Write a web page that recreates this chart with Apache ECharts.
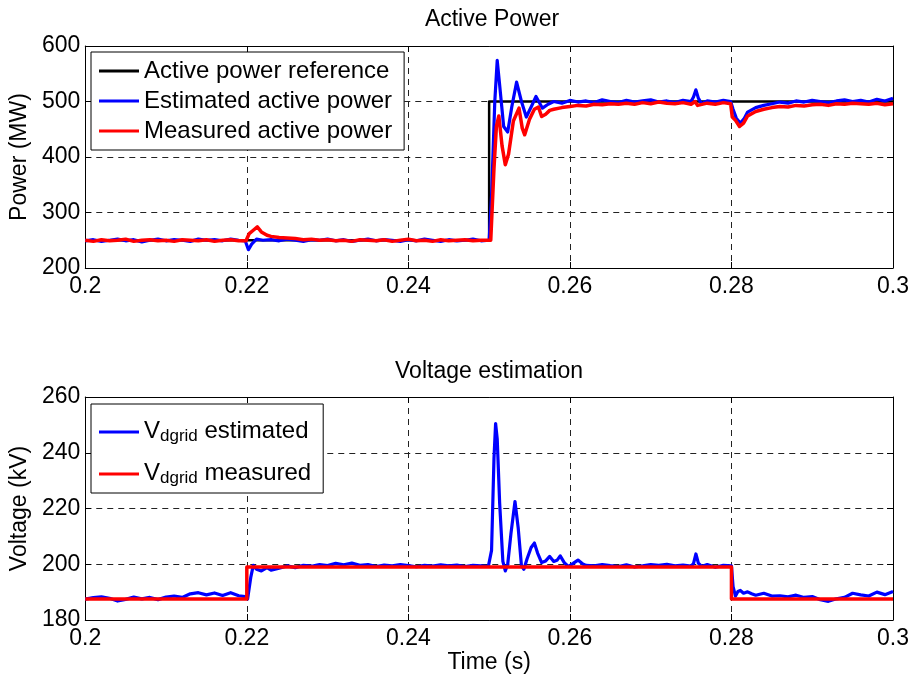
<!DOCTYPE html>
<html>
<head>
<meta charset="utf-8">
<script src="https://cdn.jsdelivr.net/npm/echarts@6/dist/echarts.min.js"></script>
<style>
html, body { margin: 0; padding: 0; background: #fff; }
#chart { width: 917px; height: 680px; }
</style>
</head>
<body>
<div id="chart"></div>
<script>
// ---- Active power (MW) vs time (s) ----
const powerRef = [[0.2, 250], [0.25, 250], [0.25, 500], [0.3, 500]];

const powerEst = [
  [0.200,249],[0.201,251],[0.202,248],[0.203,250],[0.204,252],[0.205,249],[0.206,251],[0.207,247],
  [0.208,250],[0.209,252],[0.210,249],[0.211,251],[0.212,250],[0.213,248],[0.214,252],[0.215,250],
  [0.216,251],[0.217,249],[0.218,252],[0.219,250],[0.2198,249],[0.2202,233],[0.2206,243],[0.2212,252],
  [0.222,250],[0.223,251],[0.224,249],[0.225,252],[0.226,250],[0.227,248],[0.228,251],[0.229,250],
  [0.230,252],[0.231,249],[0.232,251],[0.233,248],[0.234,250],[0.235,252],[0.236,249],[0.237,251],
  [0.238,250],[0.239,248],[0.240,251],[0.241,249],[0.242,252],[0.243,250],[0.244,248],[0.245,251],
  [0.246,249],[0.247,250],[0.248,252],[0.249,249],[0.2500,250],[0.2503,330],[0.2507,500],[0.2510,574],
  [0.2513,530],[0.2518,455],[0.2523,445],[0.2528,490],[0.2534,535],[0.2540,500],[0.2546,472],[0.2552,490],
  [0.2558,509],[0.2566,488],[0.2573,495],[0.258,500],[0.259,497],[0.260,502],[0.261,499],[0.262,501],
  [0.263,498],[0.264,503],[0.265,500],[0.266,498],[0.267,502],[0.268,499],[0.269,501],[0.270,503],
  [0.271,499],[0.272,501],[0.273,498],[0.274,502],[0.275,500],[0.2753,508],[0.2756,521],[0.2759,506],
  [0.2763,496],[0.277,501],[0.278,499],[0.279,502],[0.2799,500],[0.2802,486],[0.2806,470],[0.2811,461],
  [0.2816,470],[0.282,481],[0.283,489],[0.284,493],[0.285,496],[0.286,499],[0.287,497],[0.288,501],
  [0.289,499],[0.290,502],[0.291,500],[0.292,498],[0.293,501],[0.294,503],[0.295,500],[0.296,502],
  [0.297,499],[0.298,504],[0.299,501],[0.300,506]
];

const powerMeas = [
  [0.200,250],[0.201,248],[0.202,251],[0.203,249],[0.204,250],[0.205,252],[0.206,248],[0.207,250],
  [0.208,251],[0.209,249],[0.210,250],[0.211,248],[0.212,251],[0.213,250],[0.214,249],[0.215,251],
  [0.216,248],[0.217,250],[0.218,251],[0.219,249],[0.2199,249],[0.2203,262],[0.2208,268],[0.2213,274],
  [0.2218,265],[0.2225,259],[0.223,257],[0.224,255],[0.225,254],[0.226,253],[0.227,251],[0.228,252],
  [0.229,250],[0.230,251],[0.231,249],[0.232,250],[0.233,248],[0.234,251],[0.235,250],[0.236,249],
  [0.237,251],[0.238,248],[0.239,250],[0.240,252],[0.241,249],[0.242,250],[0.243,248],[0.244,251],
  [0.245,249],[0.246,250],[0.247,251],[0.248,249],[0.249,250],[0.2502,250],[0.2506,380],[0.2509,455],
  [0.2512,474],[0.2516,420],[0.2520,386],[0.2524,405],[0.2530,465],[0.2537,488],[0.2541,452],[0.2544,440],
  [0.2550,468],[0.2556,486],[0.2561,490],[0.2565,473],[0.2570,477],[0.2575,484],[0.258,486],[0.259,489],
  [0.260,491],[0.261,493],[0.262,492],[0.263,495],[0.264,494],[0.265,496],[0.266,495],[0.267,497],
  [0.268,495],[0.269,498],[0.270,496],[0.271,499],[0.272,497],[0.273,496],[0.274,498],[0.275,495],
  [0.2755,500],[0.2758,493],[0.276,492],[0.277,497],[0.278,495],[0.279,498],[0.2799,496],[0.2801,472],
  [0.2805,466],[0.2810,455],[0.2815,461],[0.282,474],[0.283,482],[0.284,486],[0.285,489],[0.286,491],
  [0.287,490],[0.288,493],[0.289,492],[0.290,494],[0.291,495],[0.292,493],[0.293,496],[0.294,495],
  [0.295,497],[0.296,496],[0.297,495],[0.298,497],[0.299,494],[0.300,496]
];

// ---- Grid d-axis voltage (kV) vs time (s) ----
const voltMeas = [[0.2, 187.5], [0.22, 187.5], [0.22, 199], [0.28, 199], [0.28, 187.5], [0.3, 187.5]];

const voltEst = [
  [0.200,187.5],[0.201,188.0],[0.202,188.3],[0.203,187.8],[0.204,186.8],[0.205,187.4],[0.206,188.2],[0.207,187.6],
  [0.208,188.1],[0.209,187.3],[0.210,188.2],[0.211,188.6],[0.212,188.1],[0.213,189.4],[0.214,189.8],[0.215,189.0],
  [0.216,189.7],[0.217,188.8],[0.218,189.8],[0.219,188.7],[0.2198,188.4],[0.2201,187.6],[0.2205,195.5],[0.2208,199.6],
  [0.2212,198.2],[0.2218,197.6],[0.2225,198.8],[0.223,197.9],[0.224,198.6],[0.225,199.4],[0.226,198.8],[0.227,199.6],
  [0.228,199.3],[0.229,199.9],[0.230,199.5],[0.231,200.3],[0.232,199.8],[0.233,200.4],[0.234,199.6],[0.235,199.9],
  [0.236,199.2],[0.237,199.7],[0.238,199.4],[0.239,199.9],[0.240,199.5],[0.241,199.1],[0.242,199.6],[0.243,199.3],
  [0.244,199.8],[0.245,199.4],[0.246,199.7],[0.247,199.2],[0.248,199.6],[0.249,199.4],[0.2499,199.2],[0.2503,205],
  [0.2506,238],[0.2508,250.5],[0.2510,245],[0.2513,222],[0.2517,201],[0.2520,197.6],[0.2523,200],[0.2527,211],
  [0.2532,222.5],[0.2536,213],[0.2540,199.5],[0.2543,198.2],[0.2547,202],[0.2552,206],[0.2556,207.6],[0.2560,204],
  [0.2565,200.6],[0.2570,201.2],[0.2575,202.8],[0.2580,201],[0.2584,201.4],[0.2588,203],[0.2593,200.6],[0.2598,199.2],
  [0.2604,200.3],[0.2610,201.5],[0.2616,200.1],[0.262,199.6],[0.263,199.4],[0.264,199.9],[0.265,199.5],[0.266,199.2],
  [0.267,199.8],[0.268,199.0],[0.269,199.4],[0.270,199.9],[0.271,199.6],[0.272,200.0],[0.273,199.4],[0.274,199.7],
  [0.275,199.3],[0.2753,200.2],[0.2756,203.7],[0.2759,200.4],[0.2763,199.2],[0.277,199.9],[0.278,198.9],[0.279,199.6],
  [0.2800,199.4],[0.2802,192],[0.2805,188.6],[0.2808,190.2],[0.2811,190.6],[0.2815,189.6],[0.282,190.1],[0.2825,189.4],
  [0.283,188.9],[0.284,189.6],[0.285,188.6],[0.286,188.7],[0.287,188.3],[0.288,188.9],[0.289,188.1],[0.290,188.4],
  [0.291,187.3],[0.292,186.7],[0.293,187.6],[0.294,188.1],[0.295,189.6],[0.296,189.0],[0.297,188.6],[0.298,190.0],
  [0.299,189.1],[0.300,190.2]
];

const FONT = '"Liberation Sans", Arial, Helvetica, sans-serif';
const TICK_SIZE = 23, NAME_SIZE = 23, TITLE_SIZE = 23, LEGEND_SIZE = 24;
const plotLeft = 85, plotRight = 24;
const grids = [
  { left: plotLeft, right: plotRight, top: 46, height: 222 },
  { left: plotLeft, right: plotRight, top: 397, height: 223 }
];

function timeLabel(v) { return String(+v.toFixed(2)); }

function bottomXAxis(gi, showName) {
  return {
    type: 'value', gridIndex: gi, min: 0.2, max: 0.3, interval: 0.02, position: 'bottom',
    axisLine: { show: true, onZero: false, lineStyle: { color: '#000', width: 1 } },
    axisTick: { show: true, inside: true, length: 6, lineStyle: { color: '#000' } },
    axisLabel: { color: '#000', fontSize: TICK_SIZE, fontFamily: FONT, margin: 7, formatter: timeLabel },
    splitLine: { show: true, lineStyle: { color: '#222', type: [6, 5], width: 1 } },
    name: showName ? 'Time (s)' : '', nameLocation: 'middle', nameGap: 30,
    nameTextStyle: { color: '#000', fontSize: NAME_SIZE, fontFamily: FONT }
  };
}
function topXAxis(gi) {
  return {
    type: 'value', gridIndex: gi, min: 0.2, max: 0.3, interval: 0.02, position: 'top',
    axisLine: { show: true, onZero: false, lineStyle: { color: '#000', width: 1 } },
    axisTick: { show: true, inside: true, length: 6, lineStyle: { color: '#000' } },
    axisLabel: { show: false }, splitLine: { show: false }
  };
}
function leftYAxis(gi, min, max, step, name) {
  return {
    type: 'value', gridIndex: gi, min: min, max: max, interval: step, position: 'left',
    axisLine: { show: true, onZero: false, lineStyle: { color: '#000', width: 1 } },
    axisTick: { show: true, inside: true, length: 6, lineStyle: { color: '#000' } },
    axisLabel: { color: '#000', fontSize: TICK_SIZE, fontFamily: FONT, margin: 5 },
    splitLine: { show: true, lineStyle: { color: '#222', type: [6, 5], width: 1 } },
    name: name, nameLocation: 'middle', nameGap: 51, nameRotate: 90,
    nameTextStyle: { color: '#000', fontSize: NAME_SIZE, fontFamily: FONT }
  };
}
function rightYAxis(gi, min, max, step) {
  return {
    type: 'value', gridIndex: gi, min: min, max: max, interval: step, position: 'right',
    axisLine: { show: true, onZero: false, lineStyle: { color: '#000', width: 1 } },
    axisTick: { show: true, inside: true, length: 6, lineStyle: { color: '#000' } },
    axisLabel: { show: false }, splitLine: { show: false }
  };
}

function line(name, data, color, width, xi, yi, z) {
  return {
    name: name, type: 'line', data: data, xAxisIndex: xi, yAxisIndex: yi,
    showSymbol: false, symbol: 'none', z: z,
    lineStyle: { color: color, width: width, join: 'round' },
    itemStyle: { color: color }
  };
}

const legendBase = {
  orient: 'vertical', left: 91, icon: 'rect', itemWidth: 40, itemHeight: 3,
  borderColor: '#000', borderWidth: 1, borderRadius: 0, backgroundColor: '#fff',
  inactiveColor: '#000', selectedMode: false
};

const plotCenterX = plotLeft + (917 - plotLeft - plotRight) / 2;

const chart = echarts.init(document.getElementById('chart'), null, { renderer: 'canvas' });
chart.setOption({
  animation: false,
  backgroundColor: '#fff',
  grid: grids,
  xAxis: [bottomXAxis(0, false), topXAxis(0), bottomXAxis(1, true), topXAxis(1)],
  yAxis: [
    leftYAxis(0, 200, 600, 100, 'Power (MW)'), rightYAxis(0, 200, 600, 100),
    leftYAxis(1, 180, 260, 20, 'Voltage (kV)'), rightYAxis(1, 180, 260, 20)
  ],
  graphic: [
    { type: 'text', x: plotCenterX + 3, y: 20,
      style: { text: 'Active Power', fill: '#000', font: TITLE_SIZE + 'px ' + FONT, align: 'center', verticalAlign: 'middle' } },
    { type: 'text', x: plotCenterX, y: 372,
      style: { text: 'Voltage estimation', fill: '#000', font: TITLE_SIZE + 'px ' + FONT, align: 'center', verticalAlign: 'middle' } }
  ],
  legend: [
    Object.assign({}, legendBase, {
      top: 52, itemGap: 6, padding: [7, 12, 7, 8],
      data: ['Active power reference', 'Estimated active power', 'Measured active power'],
      textStyle: { color: '#000', fontSize: LEGEND_SIZE, fontFamily: FONT }
    }),
    Object.assign({}, legendBase, {
      top: 404, itemGap: 7, padding: [6, 12, 6, 8],
      data: ['Vdgrid estimated', 'Vdgrid measured'],
      formatter: function (n) {
        return n === 'Vdgrid estimated' ? '{b|V}{s|dgrid}{b| estimated}' : '{b|V}{s|dgrid}{b| measured}';
      },
      textStyle: {
        color: '#000', fontFamily: FONT,
        rich: {
          b: { fontSize: LEGEND_SIZE, fontFamily: FONT, color: '#000', verticalAlign: 'top', lineHeight: 26 },
          s: { fontSize: 17, fontFamily: FONT, color: '#000', verticalAlign: 'bottom', lineHeight: 17, padding: [18, 0, 0, 0] }
        }
      }
    })
  ],
  series: [
    line('Active power reference', powerRef, '#000', 2.5, 0, 0, 2),
    line('Estimated active power', powerEst, '#0000ff', 3.2, 0, 0, 3),
    line('Measured active power', powerMeas, '#ff0000', 3.5, 0, 0, 4),
    line('Vdgrid estimated', voltEst, '#0000ff', 3.2, 2, 2, 3),
    line('Vdgrid measured', voltMeas, '#ff0000', 3.5, 2, 2, 4)
  ]
});
</script>
</body>
</html>
